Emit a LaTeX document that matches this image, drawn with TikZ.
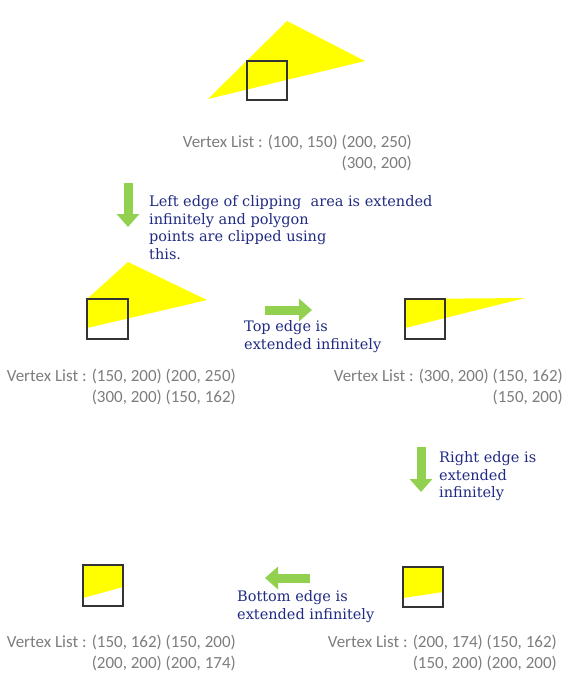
\documentclass[tikz,border=0pt]{standalone}
\usepackage{fontspec}
\setmainfont{DejaVu Serif}
\newfontfamily\listfont{Carlito}
\usetikzlibrary{arrows.meta}
\definecolor{clipyellow}{RGB}{255,255,0}
\definecolor{stepgreen}{RGB}{146,208,80}
\definecolor{noteblue}{RGB}{32,42,130}
\definecolor{listgray}{RGB}{125,125,125}
\tikzstyle{window} = [draw=black!80, line width=1.1pt]
\tikzstyle{poly} = [fill=clipyellow, draw=none]
\tikzstyle{vlist} = [text=listgray, font=\listfont\fontsize{17}{21}\selectfont, align=right, inner sep=0pt, anchor=north east]
\tikzstyle{note} = [text=noteblue, font=\fontsize{14.5}{17.8}\selectfont, align=left, inner sep=0pt, anchor=north west]
\tikzstyle{stepArrow} = [stepgreen, line width=9pt, -{Triangle[width=22pt,length=13pt]}]

\begin{document}
\begin{tikzpicture}[x=1pt, y=-1pt]
\useasboundingbox (0,0) rectangle (570,688);

% input polygon
\fill[poly] (208,99) -- (287,21) -- (365,61) -- cycle;
\draw[window] (247,61) rectangle (287,100);
\node(listInput) [vlist] at (412,135) {Vertex List : (100, 150) (200, 250)\\(300, 200)};

% left edge
\coordinate(leftTop) at (128,183);
\coordinate(leftTip) at (128,227);
\draw[stepArrow] (leftTop) -- (leftTip);
\node(noteLeft) [note] at (149,195) {Left edge of clipping\ \ area is extended\\infinitely and polygon\\points are clipped using\\this.};
\fill[poly] (87,299) -- (128,262) -- (207,300) -- (87,328) -- cycle;
\draw[window] (87,299) rectangle (128,339);
\node(listLeft) [vlist] at (236,369) {Vertex List : (150, 200) (200, 250)\\(300, 200) (150, 162)};

% top edge
\coordinate(topTail) at (265,310);
\coordinate(topTip) at (312,310);
\draw[stepArrow] (topTail) -- (topTip);
\node(noteTop) [note] at (244,320) {Top edge is\\extended infinitely};
\fill[poly] (405,299) -- (525,298) -- (405,328) -- cycle;
\draw[window] (405,299) rectangle (445,339);
\node(listTop) [vlist] at (563,369) {Vertex List : (300, 200) (150, 162)\\(150, 200)};

% right edge
\coordinate(rightTop) at (421,447);
\coordinate(rightTip) at (421,492);
\draw[stepArrow] (rightTop) -- (rightTip);
\node(noteRight) [note] at (439,451) {Right edge is\\extended\\infinitely};
\fill[poly] (403,567) -- (443,567) -- (443,592) -- (403,598) -- cycle;
\draw[window] (403,567) rectangle (443,607);
\node(listRight) [vlist] at (557,635) {Vertex List : (200, 174) (150, 162)\\(150, 200) (200, 200)};

% bottom edge
\coordinate(bottomTail) at (310,578);
\coordinate(bottomTip) at (265,578);
\draw[stepArrow] (bottomTail) -- (bottomTip);
\node(noteBottom) [note] at (237,590) {Bottom edge is\\extended infinitely};
\fill[poly] (83,565) -- (123,565) -- (123,587) -- (83,598) -- cycle;
\draw[window] (83,565) rectangle (123,606);
\node(listBottom) [vlist] at (236,635) {Vertex List : (150, 162) (150, 200)\\(200, 200) (200, 174)};

\end{tikzpicture}
\end{document}
